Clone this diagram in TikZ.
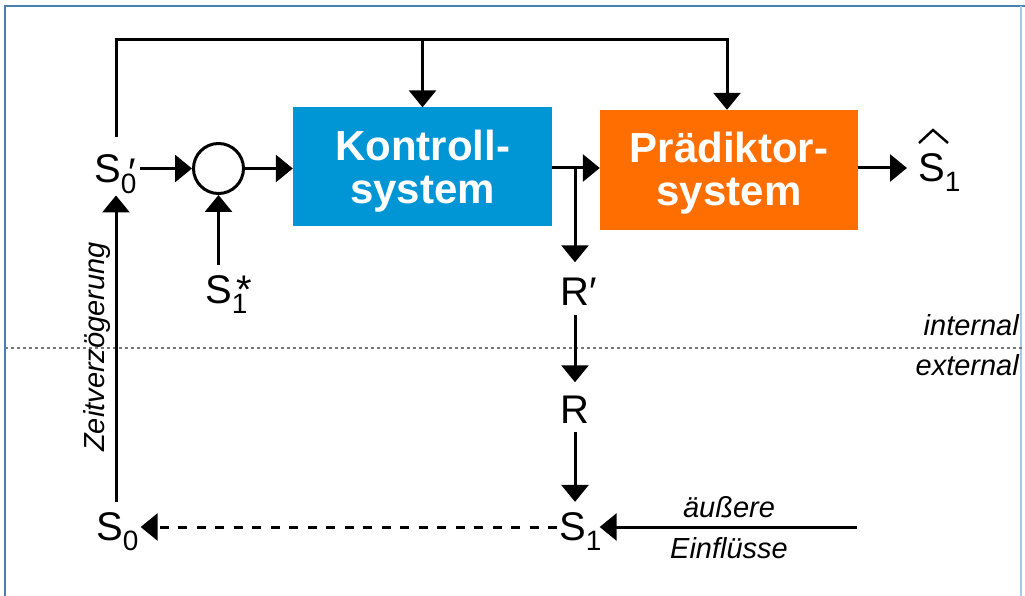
\documentclass[tikz,border=0pt]{standalone}
\usepackage{fontspec}
\setmainfont{Liberation Sans}
\usetikzlibrary{arrows.meta}
\definecolor{kblue}{RGB}{0,150,214}
\definecolor{porange}{RGB}{255,110,0}
\definecolor{frameblue}{RGB}{74,126,181}
\definecolor{framelight}{RGB}{170,200,228}
\definecolor{dotgray}{RGB}{120,120,120}
\newcommand\lblfont{\fontsize{40}{40}\selectfont}
\newcommand\subfnt{\fontsize{28}{28}\selectfont}
\newcommand\mysub[1]{\raisebox{-10pt}{\subfnt #1}}
\newcommand\itfnt{\fontsize{29}{29}\selectfont\itshape}
\begin{document}
\begin{tikzpicture}[x=1pt,y=-1pt,
  conn/.style={line width=3pt},
  arr/.style={conn,-{Triangle[length=17pt,width=27pt]}},
  lbl/.style={font=\lblfont,inner sep=2pt,anchor=base west},
  boxnode/.style={rectangle,minimum width=259pt,minimum height=118pt,text=white,
    font=\fontsize{42}{43}\selectfont\bfseries,align=center,inner sep=0pt},
  note/.style={font=\itfnt,inner sep=0pt}]
\useasboundingbox (0,0) rectangle (1025,596);
% frame
\draw[frameblue,line width=2pt] (5,600) -- (5,6) -- (1025,6);
\draw[framelight,line width=1.5pt] (1021,6) -- (1021,600);
% internal / external separator
\draw[dotgray,line width=1.5pt,dash pattern=on 3pt off 3pt] (5,348) -- (1025,348);
\node[note,anchor=base east] (int) at (1019,335) {internal};
\node[note,anchor=base east] (ext) at (1019,375) {external};
% nodes
\node[lbl] (S0p) at (92,183) {S\mysub{0}\kern-8pt\raisebox{-3pt}{′}};
\node[circle,draw,line width=3pt,minimum size=50pt,inner sep=0pt] (sum) at (218.5,168.5) {};
\node[lbl] (S1s) at (203,303) {S\rlap{\mysub{1}}\kern5pt*};
\node[boxnode,fill=kblue] (K) at (422.5,166.5) {\rule{0pt}{39pt}Kontroll-\\system};
\node[boxnode,fill=porange,minimum width=258pt,minimum height=120pt] (P) at (729,170) {\rule{0pt}{36pt}Prädiktor-\\system};
\node[lbl] (Rp) at (558,305) {R′};
\node[lbl] (R) at (558,423) {R};
\node[lbl] (S1) at (557,540) {S\mysub{1}};
\node[lbl] (S0) at (94,540) {S\mysub{0}};
\node[lbl] (Sh) at (916,182) {S\mysub{1}};
\node[note,rotate=90,anchor=base] (zeit) at (104,347) {Zeitverzögerung};
\node[note,anchor=base] (aus) at (729,517) {äußere};
\node[note,anchor=base] (ein) at (729,558) {Einflüsse};
% helper coordinates
\coordinate (col) at (116,0);
\coordinate (tr) at (727,40);
\coordinate (br) at (575,168);
\coordinate (src) at (857,527);
% hat over S1
\draw[line width=2.4pt,line join=miter] (Sh.base west) ++(3,-39) -- ++(14,-13) -- ++(15,13);
% connectors
\draw[arr] ([yshift=16pt]S0p.north -| col) |- (tr) -- (tr |- P.north);
\draw[arr] (K.north |- tr) -- (K.north);
\draw[arr] ([xshift=2pt]S0p.east |- sum.west) -- (sum.west);
\draw[arr] (sum.east) -- (K.west |- sum.east);
\draw[arr] ([yshift=8pt]S1s.north -| sum.south) -- (sum.south);
\draw[arr] (K.east |- br) -- (P.west |- br);
\draw[arr] (P.east |- br) -- ([xshift=-9pt]Sh.west |- br);
\draw[arr] (br) -- ([yshift=13pt]br |- Rp.north);
\draw[arr] ([yshift=-8pt]br |- Rp.south) -- ([yshift=11pt]br |- R.north);
\draw[arr] ([yshift=-7pt]br |- R.south) -- ([yshift=8pt]br |- S1.north);
\draw[arr] (src) -- ([xshift=-4pt]S1.east |- src);
\draw[arr,dash pattern=on 9pt off 9.5pt] (S1.west |- src) -- (S0.east |- src);
\draw[arr] ([yshift=8pt]S0.north -| col) -- (S0p.south -| col);
\end{tikzpicture}
\end{document}
